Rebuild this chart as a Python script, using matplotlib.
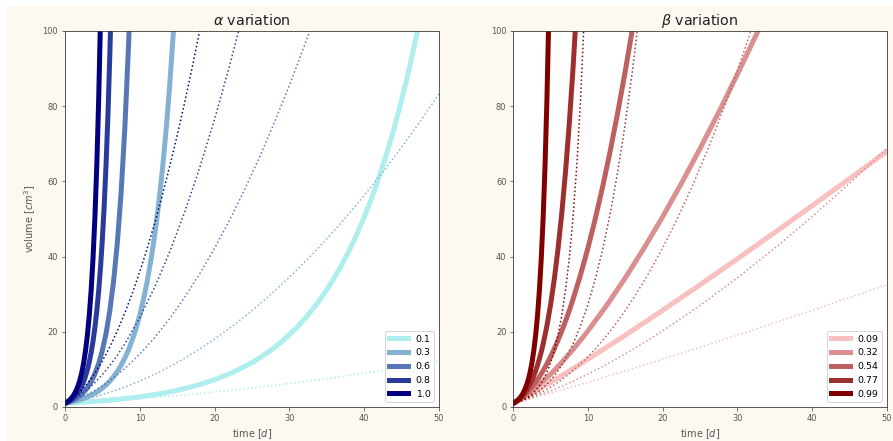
import numpy as np
import matplotlib
matplotlib.use("Agg")
import matplotlib.pyplot as plt
from matplotlib.colors import LinearSegmentedColormap
from matplotlib.patches import Rectangle

# ---- parameter values shown in the legends ----
alpha_values = [0.1, 0.3, 0.6, 0.8, 1.0]
beta_values = [0.09, 0.32, 0.54, 0.77, 0.99]

# ---- alpha variation: thick curves (time [d], volume [cm^3]) ----
alpha_solid_t = [
    [0, 2.5, 5, 7.5, 10, 12.5, 15, 17.5, 20, 22.5, 25, 26, 27, 28, 29, 30, 31, 32,
     33, 34, 35, 36, 37, 38, 39, 40, 41, 42, 43, 44, 45, 46, 47, 48],
    [0, 1, 2, 3, 4, 4.5, 5, 5.5, 6, 6.5, 7, 7.5, 8, 8.5, 9, 9.5, 10, 10.5, 11,
     11.5, 12, 12.5, 13, 13.5, 14, 14.5, 15],
    [0, 0.5, 1, 1.5, 2, 2.5, 3, 3.5, 4, 4.5, 5, 5.5, 6, 6.5, 7, 7.5, 8, 8.5, 9],
    [0, 0.25, 0.5, 0.75, 1, 1.25, 1.5, 1.75, 2, 2.25, 2.5, 2.75, 3, 3.25, 3.5,
     3.75, 4, 4.25, 4.5, 4.75, 5, 5.25, 5.5, 5.75, 6, 6.25],
    [0, 0.25, 0.5, 0.75, 1, 1.25, 1.5, 1.75, 2, 2.25, 2.5, 2.75, 3, 3.25, 3.5,
     3.75, 4, 4.25, 4.5, 4.75],
]
alpha_solid_v = [
    [1, 1.28, 1.65, 2.11, 2.70, 3.46, 4.43, 5.67, 7.24, 9.25, 11.81, 13.02, 14.36,
     15.82, 17.44, 19.22, 21.18, 23.33, 25.71, 28.32, 31.19, 34.36, 37.84, 41.66,
     45.88, 50.50, 55.60, 61.20, 67.36, 74.14, 81.59, 89.78, 98.78, 108.7],
    [1, 1.38, 1.91, 2.64, 3.64, 4.27, 5.01, 5.88, 6.90, 8.09, 9.48, 11.12, 13.02,
     15.26, 17.87, 20.92, 24.49, 28.66, 33.53, 39.23, 45.87, 53.63, 62.69, 73.26,
     85.58, 99.97, 116.7],
    [1, 1.32, 1.73, 2.27, 2.99, 3.92, 5.14, 6.73, 8.81, 11.53, 15.07, 19.69, 25.71,
     33.53, 43.72, 56.96, 74.14, 96.45, 125.4],
    [1, 1.21, 1.47, 1.79, 2.16, 2.62, 3.18, 3.85, 4.66, 5.63, 6.81, 8.24, 9.96,
     12.03, 14.53, 17.55, 21.18, 25.55, 30.82, 37.16, 44.78, 53.96, 64.98, 78.24,
     94.17, 113.3],
    [1, 1.28, 1.65, 2.11, 2.70, 3.46, 4.43, 5.67, 7.24, 9.25, 11.81, 15.07, 19.22,
     24.49, 31.19, 39.70, 50.50, 64.21, 81.59, 103.6],
]

# ---- alpha variation: dotted curves ----
alpha_dotted_t = [
    [0, 5, 10, 15, 20, 25, 30, 35, 40, 45, 50],
    [0, 2.5, 5, 7.5, 10, 12.5, 15, 17.5, 20, 22.5, 25, 27.5, 30, 32.5, 35, 37.5,
     40, 42.5, 45, 47.5, 50],
    [0, 1, 2, 3, 4, 5, 6, 8, 10, 12, 14, 16, 18, 20, 22, 24, 26, 28, 30, 32, 34],
    [0, 1, 2, 3, 4, 5, 6, 7, 8, 10, 12, 14, 16, 18, 20, 22, 24],
    [0, 1, 2, 3, 4, 5, 6, 7, 8, 9, 10, 11, 12, 13, 14, 15, 16, 17, 18, 19],
]
alpha_dotted_v = [
    [1, 1.56, 2.25, 3.06, 4.0, 5.06, 6.25, 7.56, 9.0, 10.56, 12.25],
    [1, 1.98, 3.29, 4.92, 6.89, 9.19, 11.82, 14.77, 18.06, 21.68, 25.63, 29.91,
     34.52, 39.45, 44.72, 50.32, 56.25, 62.51, 69.10, 76.02, 83.27],
    [1, 1.63, 2.40, 3.33, 4.41, 5.64, 7.02, 10.24, 14.06, 18.49, 23.52, 29.16,
     35.40, 42.25, 49.70, 57.76, 66.42, 75.69, 85.56, 96.04, 107.1],
    [1, 1.93, 3.15, 4.68, 6.50, 8.63, 11.06, 13.78, 16.81, 23.77, 31.92, 41.28,
     51.84, 63.60, 76.56, 90.73, 106.1],
    [1, 2.25, 4, 6.25, 9, 12.25, 16, 20.25, 25, 30.25, 36, 42.25, 49, 56.25, 64,
     72.25, 81, 90.25, 100, 110.3],
]

# ---- beta variation: thick curves ----
beta_solid_t = [
    [0, 1, 2, 3, 5, 7.5, 10, 15, 20, 25, 30, 35, 40, 45, 50],
    [0, 1, 2, 3, 4, 5, 6, 7, 8, 9, 10, 12.5, 15, 17.5, 20, 22.5, 25, 27.5, 30,
     32.5, 34],
    [0, 0.5, 1, 1.5, 2, 2.5, 3, 3.5, 4, 4.5, 5, 5.5, 6, 6.5, 7, 7.5, 8, 9, 10, 11,
     12, 13, 14, 15, 16],
    [0, 0.25, 0.5, 0.75, 1, 1.25, 1.5, 1.75, 2, 2.25, 2.5, 2.75, 3, 3.25, 3.5,
     3.75, 4, 4.5, 5, 5.5, 6, 6.5, 7, 7.5, 8, 8.5],
    [0, 0.25, 0.5, 0.75, 1, 1.25, 1.5, 1.75, 2, 2.25, 2.5, 2.75, 3, 3.25, 3.5,
     3.75, 4, 4.25, 4.5, 4.75],
]
beta_solid_v = [
    [1, 2.036, 3.124, 4.249, 6.575, 9.591, 12.70, 19.10, 25.72, 32.49, 39.39,
     46.40, 53.51, 60.70, 67.98],
    [1, 2.142, 3.524, 5.106, 6.860, 8.769, 10.82, 13.00, 15.30, 17.72, 20.25,
     27.01, 34.35, 42.23, 50.59, 59.43, 68.69, 78.37, 88.44, 98.88, 105.3],
    [1, 1.568, 2.277, 3.129, 4.129, 5.281, 6.586, 8.049, 9.671, 11.46, 13.40,
     15.52, 17.80, 20.25, 22.88, 25.67, 28.65, 35.12, 42.31, 50.24, 58.90, 68.31,
     78.47, 89.41, 101.1],
    [1, 1.275, 1.604, 1.995, 2.455, 2.992, 3.614, 4.331, 5.152, 6.087, 7.147,
     8.342, 9.684, 11.19, 12.86, 14.72, 16.78, 21.55, 27.29, 34.14, 42.23, 51.71,
     62.74, 75.49, 90.13, 106.9],
    [1, 1.28, 1.65, 2.11, 2.70, 3.46, 4.43, 5.67, 7.24, 9.25, 11.81, 15.07, 19.22,
     24.49, 31.19, 39.70, 50.50, 64.21, 81.59, 103.6],
]

# ---- beta variation: dotted curves ----
beta_dotted_t = [
    [0, 2, 4, 6, 10, 15, 20, 30, 40, 50],
    [0, 2, 4, 6, 8, 10, 12, 14, 16, 18, 20, 25, 30, 35, 40, 45, 50],
    [0, 1, 2, 3, 4, 5, 6, 7, 8, 9, 10, 11, 12, 13, 14, 15, 16, 18, 20, 22, 24, 26,
     28, 30, 32],
    [0, 0.5, 1, 1.5, 2, 2.5, 3, 3.5, 4, 4.5, 5, 5.5, 6, 6.5, 7, 7.5, 8, 9, 10, 11,
     12, 13, 14, 15, 16, 17],
    [0, 0.5, 1, 1.5, 2, 2.5, 3, 3.5, 4, 4.5, 5, 5.5, 6, 6.5, 7, 7.5, 8, 8.5, 9,
     9.5],
]
beta_dotted_v = [
    [1, 2.036, 3.124, 4.249, 6.575, 9.591, 12.70, 19.10, 25.72, 32.49],
    [1, 2.142, 3.524, 5.106, 6.860, 8.769, 10.82, 13.00, 15.30, 17.72, 20.25,
     27.01, 34.35, 42.23, 50.59, 59.43, 68.69],
    [1, 1.568, 2.277, 3.129, 4.129, 5.281, 6.586, 8.049, 9.671, 11.46, 13.40,
     15.52, 17.80, 20.25, 22.88, 25.67, 28.65, 35.12, 42.31, 50.24, 58.90, 68.31,
     78.47, 89.41, 101.1],
    [1, 1.275, 1.604, 1.995, 2.455, 2.992, 3.614, 4.331, 5.152, 6.087, 7.147,
     8.342, 9.684, 11.19, 12.86, 14.72, 16.78, 21.55, 27.29, 34.14, 42.23, 51.71,
     62.74, 75.49, 90.13, 106.9],
    [1, 1.28, 1.65, 2.11, 2.70, 3.46, 4.43, 5.67, 7.24, 9.25, 11.81, 15.07, 19.22,
     24.49, 31.19, 39.70, 50.50, 64.21, 81.59, 103.6],
]

CREAM = "#fdf8f0"
LABEL_GREY = "#555555"

blues = LinearSegmentedColormap.from_list("blues", ["#afeeee", "#000080"])
reds = LinearSegmentedColormap.from_list("reds", ["#f8c0c0", "#800000"])

DPI = 72
W, H = 893, 441
fig = plt.figure(figsize=(W / DPI, H / DPI), dpi=DPI, facecolor="white")
fig.patches.append(Rectangle((7 / W, 0), 1, 1 - 6 / H, transform=fig.transFigure,
                             facecolor=CREAM, edgecolor="none", zorder=-10))

ax1 = fig.add_axes([65 / W, 34 / H, 374 / W, 376 / H])
ax2 = fig.add_axes([513.3 / W, 34 / H, 373.4 / W, 376 / H])


def draw_panel(ax, cmap, labels, fmt, st, sv, dt, dv):
    n = len(labels)
    for i in range(n):
        c = cmap(i / (n - 1))
        ax.plot(st[i], sv[i], color=c, lw=5, label=fmt.format(labels[i]))
        ax.plot(dt[i], dv[i], color=c, lw=1.5, ls=":")
    ax.set_xlim(0, 50)
    ax.set_ylim(0, 100)
    ax.set_xticks(np.arange(0, 51, 10))
    ax.set_yticks(np.arange(0, 101, 20))
    ax.tick_params(labelsize=8.2, colors=LABEL_GREY, labelcolor=LABEL_GREY)
    ax.set_xlabel(r"time [$d$]", fontsize=9.8, color=LABEL_GREY)
    ax.legend(loc="lower right", fontsize=9.4)
    for s in ax.spines.values():
        s.set_color("#333333")


draw_panel(ax1, blues, alpha_values, "{:.1f}",
           alpha_solid_t, alpha_solid_v, alpha_dotted_t, alpha_dotted_v)
draw_panel(ax2, reds, beta_values, "{:.2f}",
           beta_solid_t, beta_solid_v, beta_dotted_t, beta_dotted_v)

ax1.set_ylabel(r"volume [$cm^3$]", fontsize=9.8, color=LABEL_GREY)
ax1.set_title(r"$\alpha$ variation", fontsize=14.2, color="#222222")
ax2.set_title(r"$\beta$ variation", fontsize=14.2, color="#222222")

fig.savefig("out.png", dpi=DPI, facecolor=fig.get_facecolor())
